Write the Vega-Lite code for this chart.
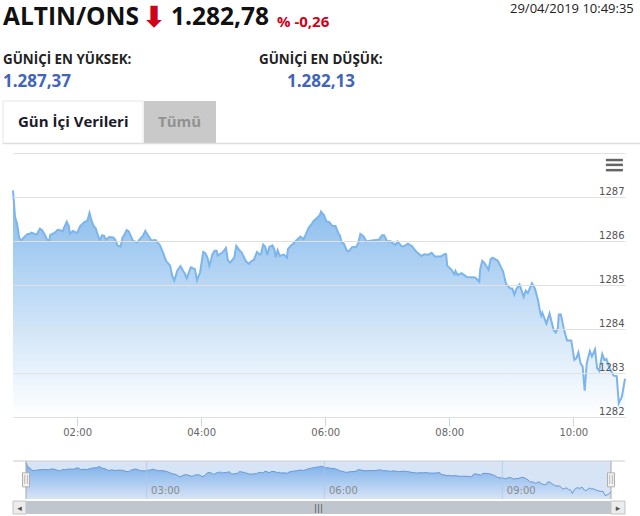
{
  "$schema": "https://vega.github.io/schema/vega-lite/v6.json",
  "padding": 0,
  "spacing": 0,
  "background": "#ffffff",
  "config": {"view": {"stroke": null}, "concat": {"spacing": 0}},
  "datasets": {
    "gold": [
      {"t":"2019-04-29T00:58","v":1287.15},{"t":"2019-04-29T01:00","v":1286.54},{"t":"2019-04-29T01:02","v":1286.39},{"t":"2019-04-29T01:04","v":1286.07},{"t":"2019-04-29T01:06","v":1286.01},{"t":"2019-04-29T01:08","v":1286.07},{"t":"2019-04-29T01:12","v":1286.16},{"t":"2019-04-29T01:14","v":1286.16},{"t":"2019-04-29T01:16","v":1286.19},{"t":"2019-04-29T01:19","v":1286.16},{"t":"2019-04-29T01:21","v":1286.15},{"t":"2019-04-29T01:24","v":1286.28},{"t":"2019-04-29T01:26","v":1286.25},{"t":"2019-04-29T01:29","v":1286.13},{"t":"2019-04-29T01:31","v":1286.03},{"t":"2019-04-29T01:33","v":1286.0},{"t":"2019-04-29T01:34","v":1286.14},{"t":"2019-04-29T01:37","v":1286.17},{"t":"2019-04-29T01:39","v":1286.2},{"t":"2019-04-29T01:41","v":1286.25},{"t":"2019-04-29T01:43","v":1286.25},{"t":"2019-04-29T01:46","v":1286.22},{"t":"2019-04-29T01:47","v":1286.28},{"t":"2019-04-29T01:50","v":1286.44},{"t":"2019-04-29T01:52","v":1286.34},{"t":"2019-04-29T01:53","v":1286.17},{"t":"2019-04-29T01:56","v":1286.23},
      {"t":"2019-04-29T02:00","v":1286.18},{"t":"2019-04-29T02:03","v":1286.34},{"t":"2019-04-29T02:07","v":1286.43},{"t":"2019-04-29T02:10","v":1286.46},{"t":"2019-04-29T02:12","v":1286.64},{"t":"2019-04-29T02:14","v":1286.47},{"t":"2019-04-29T02:16","v":1286.34},{"t":"2019-04-29T02:18","v":1286.29},{"t":"2019-04-29T02:21","v":1286.07},{"t":"2019-04-29T02:22","v":1286.02},{"t":"2019-04-29T02:24","v":1286.13},{"t":"2019-04-29T02:26","v":1286.12},{"t":"2019-04-29T02:28","v":1286.03},{"t":"2019-04-29T02:31","v":1286.09},{"t":"2019-04-29T02:35","v":1286.08},{"t":"2019-04-29T02:37","v":1286.03},{"t":"2019-04-29T02:39","v":1285.9},{"t":"2019-04-29T02:42","v":1285.87},{"t":"2019-04-29T02:44","v":1286.08},{"t":"2019-04-29T02:45","v":1286.11},{"t":"2019-04-29T02:48","v":1286.25},{"t":"2019-04-29T02:50","v":1286.22},{"t":"2019-04-29T02:54","v":1286.01},{"t":"2019-04-29T02:58","v":1285.97},
      {"t":"2019-04-29T03:01","v":1286.05},{"t":"2019-04-29T03:04","v":1286.13},{"t":"2019-04-29T03:06","v":1286.23},{"t":"2019-04-29T03:09","v":1286.11},{"t":"2019-04-29T03:12","v":1286.01},{"t":"2019-04-29T03:16","v":1286.02},{"t":"2019-04-29T03:20","v":1285.91},{"t":"2019-04-29T03:23","v":1285.75},{"t":"2019-04-29T03:26","v":1285.55},{"t":"2019-04-29T03:30","v":1285.44},{"t":"2019-04-29T03:32","v":1285.21},{"t":"2019-04-29T03:34","v":1285.1},{"t":"2019-04-29T03:37","v":1285.33},{"t":"2019-04-29T03:40","v":1285.43},{"t":"2019-04-29T03:43","v":1285.3},{"t":"2019-04-29T03:44","v":1285.27},{"t":"2019-04-29T03:46","v":1285.15},{"t":"2019-04-29T03:50","v":1285.4},{"t":"2019-04-29T03:54","v":1285.36},{"t":"2019-04-29T03:56","v":1285.11},{"t":"2019-04-29T03:59","v":1285.29},
      {"t":"2019-04-29T04:02","v":1285.75},{"t":"2019-04-29T04:04","v":1285.72},{"t":"2019-04-29T04:06","v":1285.63},{"t":"2019-04-29T04:08","v":1285.44},{"t":"2019-04-29T04:11","v":1285.7},{"t":"2019-04-29T04:13","v":1285.78},{"t":"2019-04-29T04:15","v":1285.78},{"t":"2019-04-29T04:16","v":1285.67},{"t":"2019-04-29T04:21","v":1285.75},{"t":"2019-04-29T04:24","v":1285.84},{"t":"2019-04-29T04:26","v":1285.55},{"t":"2019-04-29T04:28","v":1285.51},{"t":"2019-04-29T04:32","v":1285.62},{"t":"2019-04-29T04:34","v":1285.89},{"t":"2019-04-29T04:37","v":1285.79},{"t":"2019-04-29T04:39","v":1285.75},{"t":"2019-04-29T04:43","v":1285.55},{"t":"2019-04-29T04:46","v":1285.48},{"t":"2019-04-29T04:49","v":1285.55},{"t":"2019-04-29T04:51","v":1285.57},{"t":"2019-04-29T04:54","v":1285.75},{"t":"2019-04-29T04:57","v":1285.69},{"t":"2019-04-29T04:58","v":1285.71},
      {"t":"2019-04-29T05:00","v":1285.92},{"t":"2019-04-29T05:02","v":1285.87},{"t":"2019-04-29T05:04","v":1285.68},{"t":"2019-04-29T05:06","v":1285.87},{"t":"2019-04-29T05:09","v":1285.9},{"t":"2019-04-29T05:11","v":1285.8},{"t":"2019-04-29T05:12","v":1285.63},{"t":"2019-04-29T05:14","v":1285.79},{"t":"2019-04-29T05:16","v":1285.66},{"t":"2019-04-29T05:20","v":1285.69},{"t":"2019-04-29T05:23","v":1285.62},{"t":"2019-04-29T05:24","v":1285.82},{"t":"2019-04-29T05:27","v":1285.9},{"t":"2019-04-29T05:29","v":1285.94},{"t":"2019-04-29T05:32","v":1286.01},{"t":"2019-04-29T05:36","v":1286.1},{"t":"2019-04-29T05:39","v":1286.04},{"t":"2019-04-29T05:41","v":1286.14},{"t":"2019-04-29T05:44","v":1286.3},{"t":"2019-04-29T05:47","v":1286.39},{"t":"2019-04-29T05:49","v":1286.46},{"t":"2019-04-29T05:52","v":1286.52},{"t":"2019-04-29T05:55","v":1286.6},{"t":"2019-04-29T05:56","v":1286.67},{"t":"2019-04-29T05:59","v":1286.58},
      {"t":"2019-04-29T06:01","v":1286.45},{"t":"2019-04-29T06:04","v":1286.43},{"t":"2019-04-29T06:07","v":1286.34},{"t":"2019-04-29T06:10","v":1286.34},{"t":"2019-04-29T06:13","v":1286.16},{"t":"2019-04-29T06:14","v":1286.14},{"t":"2019-04-29T06:16","v":1285.96},{"t":"2019-04-29T06:18","v":1285.94},{"t":"2019-04-29T06:21","v":1285.78},{"t":"2019-04-29T06:23","v":1285.77},{"t":"2019-04-29T06:26","v":1285.86},{"t":"2019-04-29T06:30","v":1285.87},{"t":"2019-04-29T06:32","v":1285.95},{"t":"2019-04-29T06:34","v":1286.16},{"t":"2019-04-29T06:37","v":1286.11},{"t":"2019-04-29T06:40","v":1285.99},{"t":"2019-04-29T06:45","v":1286.01},{"t":"2019-04-29T06:52","v":1286.03},{"t":"2019-04-29T06:55","v":1286.13},{"t":"2019-04-29T06:57","v":1286.13},
      {"t":"2019-04-29T07:00","v":1285.99},{"t":"2019-04-29T07:03","v":1286.0},{"t":"2019-04-29T07:06","v":1285.94},{"t":"2019-04-29T07:08","v":1285.91},{"t":"2019-04-29T07:10","v":1285.99},{"t":"2019-04-29T07:14","v":1285.88},{"t":"2019-04-29T07:16","v":1285.88},{"t":"2019-04-29T07:20","v":1285.94},{"t":"2019-04-29T07:24","v":1285.88},{"t":"2019-04-29T07:28","v":1285.76},{"t":"2019-04-29T07:33","v":1285.66},{"t":"2019-04-29T07:36","v":1285.7},{"t":"2019-04-29T07:40","v":1285.69},{"t":"2019-04-29T07:43","v":1285.73},{"t":"2019-04-29T07:46","v":1285.65},{"t":"2019-04-29T07:52","v":1285.65},{"t":"2019-04-29T07:56","v":1285.71},{"t":"2019-04-29T07:57","v":1285.7},{"t":"2019-04-29T07:58","v":1285.44},
      {"t":"2019-04-29T08:02","v":1285.35},{"t":"2019-04-29T08:05","v":1285.24},{"t":"2019-04-29T08:06","v":1285.32},{"t":"2019-04-29T08:08","v":1285.23},{"t":"2019-04-29T08:12","v":1285.27},{"t":"2019-04-29T08:17","v":1285.18},{"t":"2019-04-29T08:25","v":1285.17},{"t":"2019-04-29T08:29","v":1285.08},{"t":"2019-04-29T08:30","v":1285.37},{"t":"2019-04-29T08:32","v":1285.55},{"t":"2019-04-29T08:34","v":1285.5},{"t":"2019-04-29T08:38","v":1285.35},{"t":"2019-04-29T08:40","v":1285.59},{"t":"2019-04-29T08:42","v":1285.62},{"t":"2019-04-29T08:47","v":1285.55},{"t":"2019-04-29T08:52","v":1285.31},{"t":"2019-04-29T08:55","v":1285.02},{"t":"2019-04-29T08:59","v":1284.92},
      {"t":"2019-04-29T09:01","v":1284.92},{"t":"2019-04-29T09:03","v":1284.78},{"t":"2019-04-29T09:05","v":1284.91},{"t":"2019-04-29T09:08","v":1285.01},{"t":"2019-04-29T09:12","v":1284.73},{"t":"2019-04-29T09:14","v":1284.87},{"t":"2019-04-29T09:16","v":1284.82},{"t":"2019-04-29T09:20","v":1285.04},{"t":"2019-04-29T09:23","v":1284.91},{"t":"2019-04-29T09:26","v":1284.64},{"t":"2019-04-29T09:28","v":1284.37},{"t":"2019-04-29T09:29","v":1284.3},{"t":"2019-04-29T09:30","v":1284.37},{"t":"2019-04-29T09:34","v":1284.12},{"t":"2019-04-29T09:37","v":1284.35},{"t":"2019-04-29T09:41","v":1283.97},{"t":"2019-04-29T09:43","v":1283.92},{"t":"2019-04-29T09:45","v":1284.02},{"t":"2019-04-29T09:46","v":1284.33},{"t":"2019-04-29T09:48","v":1284.33},{"t":"2019-04-29T09:51","v":1283.98},{"t":"2019-04-29T09:54","v":1283.74},{"t":"2019-04-29T09:58","v":1283.74},
      {"t":"2019-04-29T10:01","v":1283.3},{"t":"2019-04-29T10:03","v":1283.34},{"t":"2019-04-29T10:05","v":1283.47},{"t":"2019-04-29T10:07","v":1283.22},{"t":"2019-04-29T10:09","v":1283.15},{"t":"2019-04-29T10:11","v":1282.6},{"t":"2019-04-29T10:13","v":1283.22},{"t":"2019-04-29T10:16","v":1283.5},{"t":"2019-04-29T10:18","v":1283.38},{"t":"2019-04-29T10:21","v":1283.54},{"t":"2019-04-29T10:23","v":1283.11},{"t":"2019-04-29T10:25","v":1283.05},{"t":"2019-04-29T10:28","v":1283.43},{"t":"2019-04-29T10:30","v":1283.3},{"t":"2019-04-29T10:32","v":1283.32},{"t":"2019-04-29T10:35","v":1283.11},{"t":"2019-04-29T10:39","v":1282.94},{"t":"2019-04-29T10:42","v":1282.93},{"t":"2019-04-29T10:44","v":1282.31},{"t":"2019-04-29T10:47","v":1282.46},{"t":"2019-04-29T10:50","v":1282.87}
    ]
  },
  "vconcat": [
    {
      "width": 640,
      "height": 153,
      "encoding": {
        "x": {"field": "col", "type": "quantitative", "axis": null, "scale": {"domain": [0,1,2,3,4,5,6,7,8,9,10,11], "range": [3,18,143,144,158,171,216,259,277,287,510,640]}},
        "y": {"field": "row", "type": "quantitative", "axis": null, "scale": {"domain": [0,1,2,3,4,5,6], "range": [9,18,60,82,101,122,143.5], "zero": false}}
      },
      "layer": [
        {
          "data": {"values": [{"col": 0, "col2": 2, "row": 4, "row2": 6}]},
          "mark": {"type": "rect", "fill": "#ffffff", "stroke": "#e6e6e6", "strokeWidth": 1},
          "encoding": {"x2": {"field": "col2"}, "y2": {"field": "row2"}}
        },
        {
          "data": {"values": [{"col": 3, "col2": 6, "row": 4, "row2": 6}]},
          "mark": {"type": "rect", "fill": "#c9c9c9"},
          "encoding": {"x2": {"field": "col2"}, "y2": {"field": "row2"}}
        },
        {
          "data": {"values": [{"col": 0, "col2": 11, "row": 6}]},
          "mark": {"type": "rule", "color": "#dddddd", "strokeWidth": 1.5},
          "encoding": {"x2": {"field": "col2"}}
        },
        {
          "data": {"values": [{"label": "ALTIN/ONS", "col": 0, "row": 1}, {"label": "1.282,78", "col": 5, "row": 1}]},
          "mark": {"type": "text", "font": "Open Sans", "fontWeight": "bold", "fontSize": 24.5, "align": "left", "color": "#111111"},
          "encoding": {"text": {"field": "label"}}
        },
        {
          "data": {"values": [{"label": "⬇", "col": 3.7, "row": 1}]},
          "mark": {"type": "text", "font": "DejaVu Sans", "fontWeight": "bold", "fontSize": 29, "align": "center", "color": "#d0021b"},
          "encoding": {"text": {"field": "label"}}
        },
        {
          "data": {"values": [{"label": "% -0,26", "col": 8, "row": 1.1}]},
          "mark": {"type": "text", "font": "Open Sans", "fontWeight": "bold", "fontSize": 15, "align": "left", "color": "#d0021b"},
          "encoding": {"text": {"field": "label"}}
        },
        {
          "data": {"values": [{"label": "29/04/2019 10:49:35", "col": 10, "row": 0}]},
          "mark": {"type": "text", "font": "Open Sans", "fontSize": 13, "align": "left", "color": "#222222"},
          "encoding": {"text": {"field": "label"}}
        },
        {
          "data": {"values": [{"label": "GÜNİÇİ EN YÜKSEK:", "col": 0, "row": 2}, {"label": "GÜNİÇİ EN DÜŞÜK:", "col": 7, "row": 2}]},
          "mark": {"type": "text", "font": "Open Sans", "fontWeight": "bold", "fontSize": 13.4, "align": "left", "color": "#222222"},
          "encoding": {"text": {"field": "label"}}
        },
        {
          "data": {"values": [{"label": "1.287,37", "col": 0, "row": 3}, {"label": "1.282,13", "col": 9, "row": 3}]},
          "mark": {"type": "text", "font": "Open Sans", "fontWeight": "bold", "fontSize": 17, "align": "left", "color": "#3f66b8"},
          "encoding": {"text": {"field": "label"}}
        },
        {
          "data": {"values": [{"label": "Gün İçi Verileri", "col": 1, "row": 5, "kind": "on"}, {"label": "Tümü", "col": 4, "row": 5, "kind": "off"}]},
          "mark": {"type": "text", "font": "Open Sans", "fontWeight": "bold", "fontSize": 15, "align": "left"},
          "encoding": {
            "text": {"field": "label"},
            "color": {"field": "kind", "type": "nominal", "legend": null, "scale": {"domain": ["on", "off"], "range": ["#1a1a2a", "#919191"]}}
          }
        }
      ]
    },
    {
      "width": 640,
      "height": 264,
      "data": {"name": "gold"},
      "layer": [
        {
          "mark": {"type": "area", "color": {"gradient": "linear", "x1": 1, "y1": 0, "x2": 1, "y2": 1, "stops": [{"offset": 0, "color": "rgba(108,171,232,0.85)"}, {"offset": 1, "color": "rgba(124,181,236,0)"}]}},
          "encoding": {
            "x": {
              "field": "t", "type": "temporal",
              "scale": {"domain": [{"year": 2019, "month": 4, "date": 29, "hours": 0, "minutes": 58}, {"year": 2019, "month": 4, "date": 29, "hours": 10, "minutes": 50}], "range": [13, 625], "nice": false},
              "axis": {
                "title": null, "format": "%H:%M", "grid": false,
                "values": [{"year": 2019, "month": 4, "date": 29, "hours": 2}, {"year": 2019, "month": 4, "date": 29, "hours": 4}, {"year": 2019, "month": 4, "date": 29, "hours": 6}, {"year": 2019, "month": 4, "date": 29, "hours": 8}, {"year": 2019, "month": 4, "date": 29, "hours": 10}],
                "domainColor": "#ccd6eb", "tickColor": "#ccd6eb", "tickSize": 9, "labelFont": "DejaVu Sans", "labelFontSize": 10, "labelColor": "#666666", "labelPadding": 1, "labelFlush": false, "minExtent": 24, "maxExtent": 24
              }
            },
            "y": {
              "field": "v", "type": "quantitative",
              "scale": {"domain": [1282, 1288], "zero": false, "nice": false},
              "axis": {
                "title": null, "domain": false, "ticks": false, "grid": true, "gridColor": "#e1e1e1", "orient": "left",
                "values": [1282, 1283, 1284, 1285, 1286, 1287, 1288], "format": "d",
                "labelExpr": "datum.value == 1288 ? '' : datum.label",
                "labelFont": "DejaVu Sans", "labelFontSize": 10, "labelColor": "#555555", "labelPadding": -624, "labelAlign": "right", "labelOffset": -6, "minExtent": 0, "maxExtent": 0, "zindex": 1
              }
            },
            "y2": {"datum": 1282}
          }
        },
        {
          "mark": {"type": "line", "color": "#7cb5ec", "strokeWidth": 2},
          "encoding": {"x": {"field": "t", "type": "temporal"}, "y": {"field": "v", "type": "quantitative"}}
        },
        {
          "data": {"values": [
            {"a": "2019-04-29T10:31:30", "b": "2019-04-29T10:48", "bar": 1287.84},
            {"a": "2019-04-29T10:31:30", "b": "2019-04-29T10:48", "bar": 1287.73},
            {"a": "2019-04-29T10:31:30", "b": "2019-04-29T10:48", "bar": 1287.61}
          ]},
          "mark": {"type": "rule", "color": "#666666", "strokeWidth": 2.5},
          "encoding": {
            "x": {"field": "a", "type": "temporal"},
            "x2": {"field": "b"},
            "y": {"field": "bar", "type": "quantitative"}
          }
        }
      ]
    },
    {
      "width": 640,
      "height": 58,
      "layer": [
        {
          "data": {"name": "gold"},
          "mark": {"type": "area", "color": {"gradient": "linear", "x1": 1, "y1": 0, "x2": 1, "y2": 1, "stops": [{"offset": 0, "color": "#7ab3ee"}, {"offset": 1, "color": "#ffffff"}]}},
          "encoding": {
            "x": {
              "field": "t", "type": "temporal",
              "scale": {"domain": [{"year": 2019, "month": 4, "date": 29, "hours": 0, "minutes": 58}, {"year": 2019, "month": 4, "date": 29, "hours": 10, "minutes": 50}], "range": [26, 611], "nice": false},
              "axis": {
                "title": null, "format": "%H:%M", "grid": false, "zindex": 1, "ticks": false, "domain": false,
                "values": [{"year": 2019, "month": 4, "date": 29, "hours": 3}, {"year": 2019, "month": 4, "date": 29, "hours": 6}, {"year": 2019, "month": 4, "date": 29, "hours": 9}],
                "labelFont": "DejaVu Sans", "labelFontSize": 10, "labelColor": "#8a8a8a", "labelAlign": "left", "labelOffset": 4, "labelPadding": -14, "labelFlush": false, "minExtent": 0, "maxExtent": 0
              }
            },
            "y": {"field": "v", "type": "quantitative", "axis": null, "scale": {"domain": [1281.8, 1287.45], "range": [58, 20], "zero": false, "nice": false}},
            "y2": {"datum": 1281.8}
          }
        },
        {
          "data": {"name": "gold"},
          "mark": {"type": "line", "color": "#5f93d3", "strokeWidth": 1},
          "encoding": {"x": {"field": "t", "type": "temporal"}, "y": {"field": "v", "type": "quantitative"}}
        },
        {
          "data": {"values": [{"a": "2019-04-29T03:00", "low": 1281.8, "high": 1287.45}, {"a": "2019-04-29T06:00", "low": 1281.8, "high": 1287.45}, {"a": "2019-04-29T09:00", "low": 1281.8, "high": 1287.45}]},
          "mark": {"type": "rule", "color": "#c4d4e8", "strokeWidth": 1, "opacity": 0.7},
          "encoding": {"x": {"field": "a", "type": "temporal"}, "y": {"field": "low", "type": "quantitative"}, "y2": {"field": "high"}}
        },
        {
          "data": {"values": [{"a": "2019-04-29T00:58", "b": "2019-04-29T10:50", "low": 1281.8, "high": 1287.45}]},
          "mark": {"type": "rect", "color": "#7ba6e0", "opacity": 0.3},
          "encoding": {"x": {"field": "a", "type": "temporal"}, "x2": {"field": "b"}, "y": {"field": "low", "type": "quantitative"}, "y2": {"field": "high"}}
        },
        {
          "data": {"values": [{"a": "2019-04-29T00:45", "b": "2019-04-29T11:04", "high": 1287.45}]},
          "mark": {"type": "rule", "color": "#cccccc", "strokeWidth": 1},
          "encoding": {"x": {"field": "a", "type": "temporal"}, "x2": {"field": "b"}, "y": {"field": "high", "type": "quantitative"}}
        },
        {
          "data": {"values": [{"a": "2019-04-29T00:58", "low": 1281.8, "high": 1287.45}, {"a": "2019-04-29T10:50", "low": 1281.8, "high": 1287.45}]},
          "mark": {"type": "rule", "color": "#a8a8a8", "strokeWidth": 1},
          "encoding": {"x": {"field": "a", "type": "temporal"}, "y": {"field": "low", "type": "quantitative"}, "y2": {"field": "high"}}
        },
        {
          "data": {"values": [{"a": "2019-04-29T00:58", "mid": 1284.65}, {"a": "2019-04-29T10:50", "mid": 1284.65}]},
          "mark": {"type": "point", "filled": true, "fill": "#f2f2f2", "stroke": "#b0b0b0", "strokeWidth": 1, "opacity": 1, "size": 196, "shape": "M -0.5 -1 H 0.5 V 1 H -0.5 Z"},
          "encoding": {"x": {"field": "a", "type": "temporal"}, "y": {"field": "mid", "type": "quantitative"}}
        },
        {
          "data": {"values": [{"a": "2019-04-29T00:58", "mid": 1284.65, "label": "||"}, {"a": "2019-04-29T10:50", "mid": 1284.65, "label": "||"}]},
          "mark": {"type": "text", "font": "DejaVu Sans", "fontSize": 8, "color": "#a0a0a0"},
          "encoding": {"x": {"field": "a", "type": "temporal"}, "y": {"field": "mid", "type": "quantitative"}, "text": {"field": "label"}}
        }
      ]
    },
    {
      "width": 640,
      "height": 13,
      "encoding": {
        "x": {"field": "from", "type": "quantitative", "axis": null, "scale": {"domain": [0, 1, 2, 3], "range": [13, 26, 611, 625]}}
      },
      "layer": [
        {
          "data": {"values": [{"from": 1, "to": 2}]},
          "mark": {"type": "rect", "fill": "#bfc6cd"},
          "encoding": {"x2": {"field": "to"}}
        },
        {
          "data": {"values": [{"from": 0, "to": 1}, {"from": 2, "to": 3}]},
          "mark": {"type": "rect", "fill": "#ececec", "stroke": "#c4c4c4", "strokeWidth": 1},
          "encoding": {"x2": {"field": "to"}}
        },
        {
          "data": {"values": [{"label": "◂", "from": 0.5}, {"label": "▸", "from": 2.5}, {"label": "|||", "from": 1.5}]},
          "mark": {"type": "text", "font": "DejaVu Sans", "fontSize": 9, "color": "#555555"},
          "encoding": {"text": {"field": "label"}}
        }
      ]
    }
  ]
}
